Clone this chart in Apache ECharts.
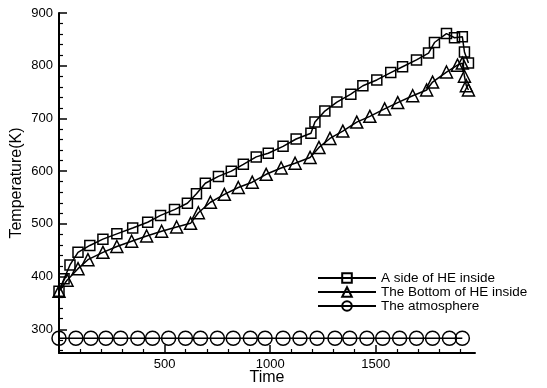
<!DOCTYPE html>
<html>
<head>
<meta charset="utf-8">
<script src="https://cdn.jsdelivr.net/npm/echarts@6/dist/echarts.min.js"></script>
<style>
  html, body { margin: 0; padding: 0; background: #fff; }
  #chart { width: 547px; height: 388px; }
</style>
</head>
<body>
<div id="chart"></div>
<script>
// A side of HE inside (squares)
const sideTime = [0, 24, 52, 90, 146, 208, 274, 349, 420, 481, 547, 608, 651, 693, 755, 816, 873, 934, 991,
    1061, 1123, 1193, 1212, 1259, 1316, 1382, 1439, 1505, 1571, 1627, 1693, 1750, 1778, 1835, 1873, 1910, 1920, 1939];
const sideTemp = [372, 396, 422, 446, 459, 471, 481, 492, 503, 516, 527, 539, 557, 577, 590, 600, 613, 627, 634,
    647, 661, 672, 693, 714, 731, 746, 762, 773, 787, 798, 811, 824, 844, 861, 853, 855, 826, 805];

// The Bottom of HE inside (triangles)
const bottomTime = [0, 38, 90, 137, 208, 274, 344, 415, 486, 557, 623, 660, 717, 783, 849, 915, 981, 1052,
    1118, 1189, 1231, 1283, 1344, 1410, 1472, 1542, 1604, 1675, 1741, 1769, 1835, 1887, 1910, 1920, 1929, 1939];
const bottomTemp = [372, 393, 415, 432, 446, 457, 467, 477, 486, 494, 501, 521, 541, 556, 569, 579, 594, 606,
    615, 626, 645, 662, 676, 693, 704, 718, 730, 743, 754, 769, 788, 801, 805, 780, 762, 754];

// The atmosphere (circles)
const airTime = [0, 80, 151, 222, 292, 373, 443, 519, 599, 670, 750, 825, 906, 976, 1061, 1141, 1222,
    1307, 1377, 1458, 1533, 1613, 1693, 1769, 1849, 1910];
const airTemp = [283, 283, 283, 283, 283, 283, 283, 283, 283, 283, 283, 283, 283, 283, 283, 283, 283,
    283, 283, 283, 283, 283, 283, 283, 283, 283];

const seriesNames = ['A side of HE inside', 'The Bottom of HE inside', 'The atmosphere'];
const xMajorTicks = [500, 1000, 1500];
const xMinorTicks = [100, 200, 300, 400, 600, 700, 800, 900, 1100, 1200, 1300, 1400, 1600, 1700, 1800, 1900];
const yMajorTicks = [300, 400, 500, 600, 700, 800, 900];
const yMinorTicks = [260, 280, 320, 340, 360, 380, 420, 440, 460, 480, 520, 540, 560, 580,
    620, 640, 660, 680, 720, 740, 760, 780, 820, 840, 860, 880];

const font = 'Liberation Sans';
const X_MIN = 0, X_MAX = 1970, Y_MIN = 255, Y_MAX = 900;
const plotBox = {left: 59, top: 13, right: 72, bottom: 35, outerBoundsMode: 'none', containLabel: false};

function pairs(xs, ys) {
    return xs.map(function (x, i) { return [x, ys[i]]; });
}

function lineSeries(name, data, symbol, size) {
    return {
        name: name,
        type: 'line',
        data: data,
        symbol: symbol,
        symbolSize: size,
        showAllSymbol: true,
        clip: false,
        xAxisIndex: 0,
        yAxisIndex: 0,
        lineStyle: {color: '#000', width: 1.5},
        itemStyle: {color: 'rgba(255,255,255,0)', borderColor: '#000', borderWidth: 1.5},
        emphasis: {disabled: true}
    };
}

function plainNumber(v) {
    return String(v);
}

const chart = echarts.init(document.getElementById('chart'));
chart.setOption({
    animation: false,
    backgroundColor: '#fff',
    textStyle: {fontFamily: font},
    grid: [
        Object.assign({}, plotBox),
        Object.assign({}, plotBox)   // second grid only carries the minor ticks
    ],
    legend: {
        orient: 'vertical',
        left: 317,
        top: 271,
        padding: 0,
        itemWidth: 58,
        itemHeight: 12,
        itemGap: 0,
        data: seriesNames,
        textStyle: {color: '#000', fontSize: 13.5, fontFamily: font}
    },
    xAxis: [{
        gridIndex: 0,
        type: 'value',
        min: X_MIN,
        max: X_MAX,
        name: 'Time',
        nameLocation: 'middle',
        nameGap: 17,
        nameMoveOverlap: false,
        nameTextStyle: {color: '#000', fontSize: 16, fontFamily: font},
        splitLine: {show: false},
        axisLine: {show: true, lineStyle: {color: '#000', width: 2}},
        axisTick: {show: true, inside: true, length: 8, customValues: xMajorTicks, lineStyle: {color: '#000', width: 1.5}},
        axisLabel: {customValues: xMajorTicks, formatter: plainNumber, color: '#000', fontSize: 13, margin: 5, fontFamily: font}
    }, {
        gridIndex: 1,
        type: 'value',
        min: X_MIN,
        max: X_MAX,
        splitLine: {show: false},
        axisLine: {show: false},
        axisTick: {show: true, inside: true, length: 4, customValues: xMinorTicks, lineStyle: {color: '#000', width: 1.2}},
        axisLabel: {show: false, customValues: xMinorTicks}
    }],
    yAxis: [{
        gridIndex: 0,
        type: 'value',
        min: Y_MIN,
        max: Y_MAX,
        name: 'Temperature(K)',
        nameLocation: 'middle',
        nameGap: 34,
        nameMoveOverlap: false,
        nameTextStyle: {color: '#000', fontSize: 16, fontFamily: font},
        splitLine: {show: false},
        axisLine: {show: true, lineStyle: {color: '#000', width: 2}},
        axisTick: {show: true, inside: true, length: 8, customValues: yMajorTicks, lineStyle: {color: '#000', width: 1.5}},
        axisLabel: {customValues: yMajorTicks, formatter: plainNumber, color: '#000', fontSize: 13, margin: 6, fontFamily: font}
    }, {
        gridIndex: 1,
        type: 'value',
        min: Y_MIN,
        max: Y_MAX,
        splitLine: {show: false},
        axisLine: {show: false},
        axisTick: {show: true, inside: true, length: 4, customValues: yMinorTicks, lineStyle: {color: '#000', width: 1.2}},
        axisLabel: {show: false, customValues: yMinorTicks}
    }],
    series: [
        lineSeries(seriesNames[0], pairs(sideTime, sideTemp), 'rect', 10),
        lineSeries(seriesNames[1], pairs(bottomTime, bottomTemp), 'triangle', 12),
        lineSeries(seriesNames[2], pairs(airTime, airTemp), 'circle', 14)
    ]
});
</script>
</body>
</html>
